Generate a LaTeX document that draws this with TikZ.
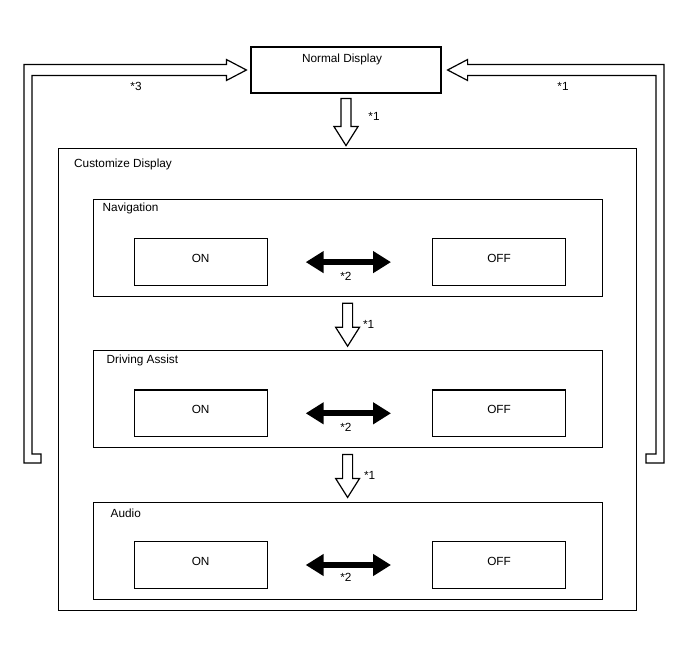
\documentclass[tikz,border=0pt]{standalone}
\usepackage{fontspec}
\setmainfont{Liberation Sans}
\usetikzlibrary{positioning,calc,arrows.meta}

\begin{document}
\begin{tikzpicture}[
  x=1pt, y=-1pt,
  every node/.style={font=\fontsize{11.8}{13}\selectfont},
  box/.style={draw, line width=1.2pt, inner sep=0pt},
  section/.style={box, minimum width=509pt, minimum height=97pt},
  choice/.style={box, minimum width=133pt, minimum height=46.5pt, text height=6pt, text depth=6pt},
  tag/.style={inner sep=0pt},
  hollow/.style={draw, line width=1.2pt, fill=white, line join=miter},
  swap/.style={line width=6pt, {Triangle[length=18pt,width=21pt]}-{Triangle[length=18pt,width=21pt]}}
]
\useasboundingbox (0,0) rectangle (688,658);

% top screen
\node[box, minimum width=190pt, minimum height=46pt] (normal) at (346,70) {};
\node[tag] (normaltext) at ($(normal.north)+(-4,13)$) {Normal Display};

% customize screen and its three items
\node[box, minimum width=578pt, minimum height=461.5pt, anchor=north west] (custom) at (58,148) {};
\node[tag, anchor=west] (customtext) at ($(custom.north west)+(16,16)$) {Customize Display};

\node[section, anchor=north] (nav) at ($(custom.north)+(0,51)$) {};
\node[section, below=53pt of nav] (drive) {};
\node[section, below=53.5pt of drive] (audio) {};

\node[tag, anchor=west] (navtext) at ($(nav.north west)+(10,9.5)$) {Navigation};
\node[tag, anchor=west] (drivetext) at ($(drive.north west)+(14,10)$) {Driving Assist};
\node[tag, anchor=west] (audiotext) at ($(audio.north west)+(18,11)$) {Audio};

\node[choice] (navon) at ($(nav.center)+(-147,14)$) {ON};
\node[choice] (navoff) at ($(nav.center)+(151.5,14)$) {OFF};
\node[choice] (driveon) at ($(drive.center)+(-147,14)$) {ON};
\node[choice] (driveoff) at ($(drive.center)+(151.5,14)$) {OFF};
\node[choice] (audioon) at ($(audio.center)+(-147,14)$) {ON};
\node[choice] (audiooff) at ($(audio.center)+(151.5,14)$) {OFF};

% on / off switching
\draw[swap] ($(navon.east)+(38,0)$) -- ($(navoff.west)+(-41,0)$);
\draw[swap] ($(driveon.east)+(38,0)$) -- ($(driveoff.west)+(-41,0)$);
\draw[swap] ($(audioon.east)+(38,0)$) -- ($(audiooff.west)+(-41,0)$);
\node[tag] (navswap) at ($(navon.east)!0.5!(navoff.west)+(-4,14)$) {*2};
\node[tag] (driveswap) at ($(driveon.east)!0.5!(driveoff.west)+(-4,14)$) {*2};
\node[tag] (audioswap) at ($(audioon.east)!0.5!(audiooff.west)+(-4,12)$) {*2};

% downward steps
\draw[hollow] ($(normal.south)+(-5,5)$) -- ++(10,0) -- ++(0,28) -- ++(7,0) -- ++(-12,19) -- ++(-12,-19) -- ++(7,0) -- cycle;
\draw[hollow] ($(nav.south)+(-5,6)$) -- ++(10,0) -- ++(0,24) -- ++(7,0) -- ++(-12,19) -- ++(-12,-19) -- ++(7,0) -- cycle;
\draw[hollow] ($(drive.south)+(-5,6)$) -- ++(10,0) -- ++(0,24) -- ++(7,0) -- ++(-12,19) -- ++(-12,-19) -- ++(7,0) -- cycle;
\node[tag] (step1) at ($(normal.south)+(28,23)$) {*1};
\node[tag] (step2) at ($(nav.south)+(21,27)$) {*1};
\node[tag] (step3) at ($(drive.south)+(22,27)$) {*1};

% back to normal display
\draw[hollow] ($(normal.west)+(-4,0)$) coordinate (tipL)
  -- ++(-20,10.5) -- ++(0,-5) -| (32,454) -- (41,454) -- (41,463) -- (24,463)
  |- ($(tipL)+(-20,-5.5)$) -- ++(0,-5) -- cycle;
\draw[hollow] ($(normal.east)+(6,0)$) coordinate (tipR)
  -- ++(20,10.5) -- ++(0,-5) -| (656,454) -- (646,454) -- (646,463) -- (664,463)
  |- ($(tipR)+(20,-5.5)$) -- ++(0,-5) -- cycle;
\node[tag] (backL) at (136,86) {*3};
\node[tag] (backR) at (563,86) {*1};
\end{tikzpicture}
\end{document}
